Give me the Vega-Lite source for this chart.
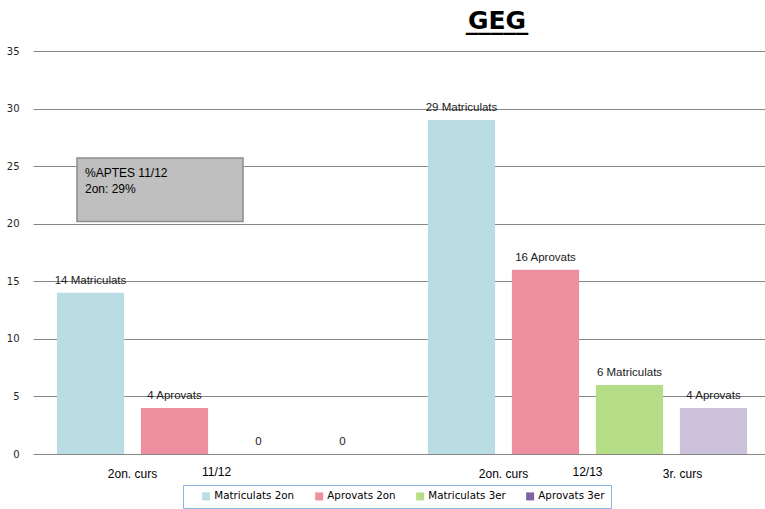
{
  "$schema": "https://vega.github.io/schema/vega-lite/v6.json",
  "width": 732,
  "height": 403,
  "autosize": {"type": "none"},
  "padding": {"left": 33, "top": 51, "right": 0, "bottom": 55},
  "background": "white",
  "title": {
    "text": "GEG",
    "subtitle": "_____",
    "font": "DejaVu Sans",
    "fontSize": 25,
    "fontWeight": "bold",
    "color": "#000000",
    "subtitleFont": "DejaVu Sans",
    "subtitleFontSize": 25,
    "subtitleFontWeight": "bold",
    "subtitleColor": "#000000",
    "subtitlePadding": -25,
    "anchor": "middle",
    "dx": 98,
    "dy": 23,
    "baseline": "alphabetic",
    "offset": 15
  },
  "config": {
    "view": {"stroke": null},
    "font": "Liberation Sans"
  },
  "datasets": {
    "bars": [
      {"year": "11/12", "series": "Matriculats 2on", "value": 14, "label": "14 Matriculats"},
      {"year": "11/12", "series": "Aprovats 2on", "value": 4, "label": "4 Aprovats"},
      {"year": "11/12", "series": "Matriculats 3er", "value": 0, "label": "0"},
      {"year": "11/12", "series": "Aprovats 3er", "value": 0, "label": "0"},
      {"year": "12/13", "series": "Matriculats 2on", "value": 29, "label": "29 Matriculats"},
      {"year": "12/13", "series": "Aprovats 2on", "value": 16, "label": "16 Aprovats"},
      {"year": "12/13", "series": "Matriculats 3er", "value": 6, "label": "6 Matriculats"},
      {"year": "12/13", "series": "Aprovats 3er", "value": 4, "label": "4 Aprovats"}
    ],
    "courses": [
      {"year": "11/12", "series": "Matriculats 2on", "course": "2on. curs"},
      {"year": "12/13", "series": "Matriculats 2on", "course": "2on. curs"},
      {"year": "12/13", "series": "Aprovats 3er", "course": "3r. curs"}
    ],
    "note": [
      {"year": "11/12", "top": 25.7, "bottom": 20.2, "text": "%APTES 11/12\n2on: 29%"}
    ]
  },
  "layer": [
    {
      "data": {"name": "bars"},
      "mark": {"type": "bar"},
      "encoding": {
        "x": {
          "field": "year", "type": "nominal",
          "scale": {"paddingInner": 0.0943, "paddingOuter": 0.0337, "align": 0.62},
          "axis": {
            "title": null, "labelAngle": 0, "domain": false, "ticks": false,
            "labelFont": "Liberation Sans", "labelFontSize": 12, "labelColor": "#000000",
            "labelPadding": 12
          }
        },
        "xOffset": {
          "field": "series",
          "scale": {
            "domain": ["Matriculats 2on", "Aprovats 2on", "Matriculats 3er", "Aprovats 3er"],
            "paddingInner": 0.2, "paddingOuter": 0.1
          }
        },
        "y": {
          "field": "value", "type": "quantitative",
          "scale": {"domain": [0, 35], "nice": false},
          "axis": {
            "title": null, "values": [0, 5, 10, 15, 20, 25, 30, 35],
            "grid": true, "gridColor": "#868686", "gridWidth": 1,
            "domain": false, "ticks": false, "labelPadding": 14,
            "labelFont": "DejaVu Sans", "labelFontSize": 10, "labelColor": "#262626"
          }
        },
        "color": {
          "field": "series", "type": "nominal",
          "scale": {
            "domain": ["Matriculats 2on", "Aprovats 2on", "Matriculats 3er", "Aprovats 3er"],
            "range": ["#B9DDE2", "#EE8FA0", "#B5DD87", "#8064A2"]
          },
          "legend": {
            "orient": "none", "legendX": 150, "legendY": 434,
            "direction": "horizontal", "title": null,
            "symbolType": "square", "symbolSize": 64, "symbolStrokeWidth": 0,
            "labelFont": "DejaVu Sans", "labelFontSize": 10.3, "labelColor": "#000000",
            "strokeColor": "#8DB3E2", "padding": 6, "columnPadding": 7,
            "labelOffset": 3, "symbolOffset": 12,
            "labelExpr": "datum.label === 'Aprovats 3er' ? datum.label + '\u00a0\u00a0\u00a0\u00a0' : datum.label"
          }
        },
        "opacity": {
          "condition": {"test": "datum.series === 'Aprovats 3er'", "value": 0.4},
          "value": 1
        }
      }
    },
    {
      "data": {"name": "bars"},
      "mark": {"type": "text", "baseline": "alphabetic", "dy": -9, "fontSize": 11.5, "color": "#1a1a1a", "font": "Liberation Sans"},
      "encoding": {
        "x": {"field": "year", "type": "nominal"},
        "xOffset": {"field": "series"},
        "y": {"field": "value", "type": "quantitative"},
        "text": {"field": "label"}
      }
    },
    {
      "data": {"name": "courses"},
      "transform": [{"filter": "datum.course === '2on. curs'"}],
      "mark": {"type": "text", "baseline": "alphabetic", "dy": 24, "dx": 42, "fontSize": 12, "color": "#000000", "font": "Liberation Sans"},
      "encoding": {
        "x": {"field": "year", "type": "nominal"},
        "xOffset": {"field": "series"},
        "y": {"datum": 0, "type": "quantitative"},
        "text": {"field": "course"}
      }
    },
    {
      "data": {"name": "courses"},
      "transform": [{"filter": "datum.course === '3r. curs'"}],
      "mark": {"type": "text", "baseline": "alphabetic", "dy": 24, "dx": -31, "fontSize": 12, "color": "#000000", "font": "Liberation Sans"},
      "encoding": {
        "x": {"field": "year", "type": "nominal"},
        "xOffset": {"field": "series"},
        "y": {"datum": 0, "type": "quantitative"},
        "text": {"field": "course"}
      }
    },
    {
      "data": {"name": "note"},
      "mark": {"type": "rect", "width": 166, "xOffset": -56.5, "fill": "#BFBFBF", "stroke": "#8C8C8C", "strokeWidth": 1.5},
      "encoding": {
        "x": {"field": "year", "type": "nominal"},
        "y": {"field": "top", "type": "quantitative"},
        "y2": {"field": "bottom"}
      }
    },
    {
      "data": {"name": "note"},
      "mark": {"type": "text", "align": "left", "baseline": "alphabetic", "dx": -131.5, "dy": 19, "fontSize": 12, "lineBreak": "\n", "lineHeight": 16, "color": "#000000", "font": "Liberation Sans"},
      "encoding": {
        "x": {"field": "year", "type": "nominal"},
        "y": {"field": "top", "type": "quantitative"},
        "text": {"field": "text"}
      }
    }
  ]
}
